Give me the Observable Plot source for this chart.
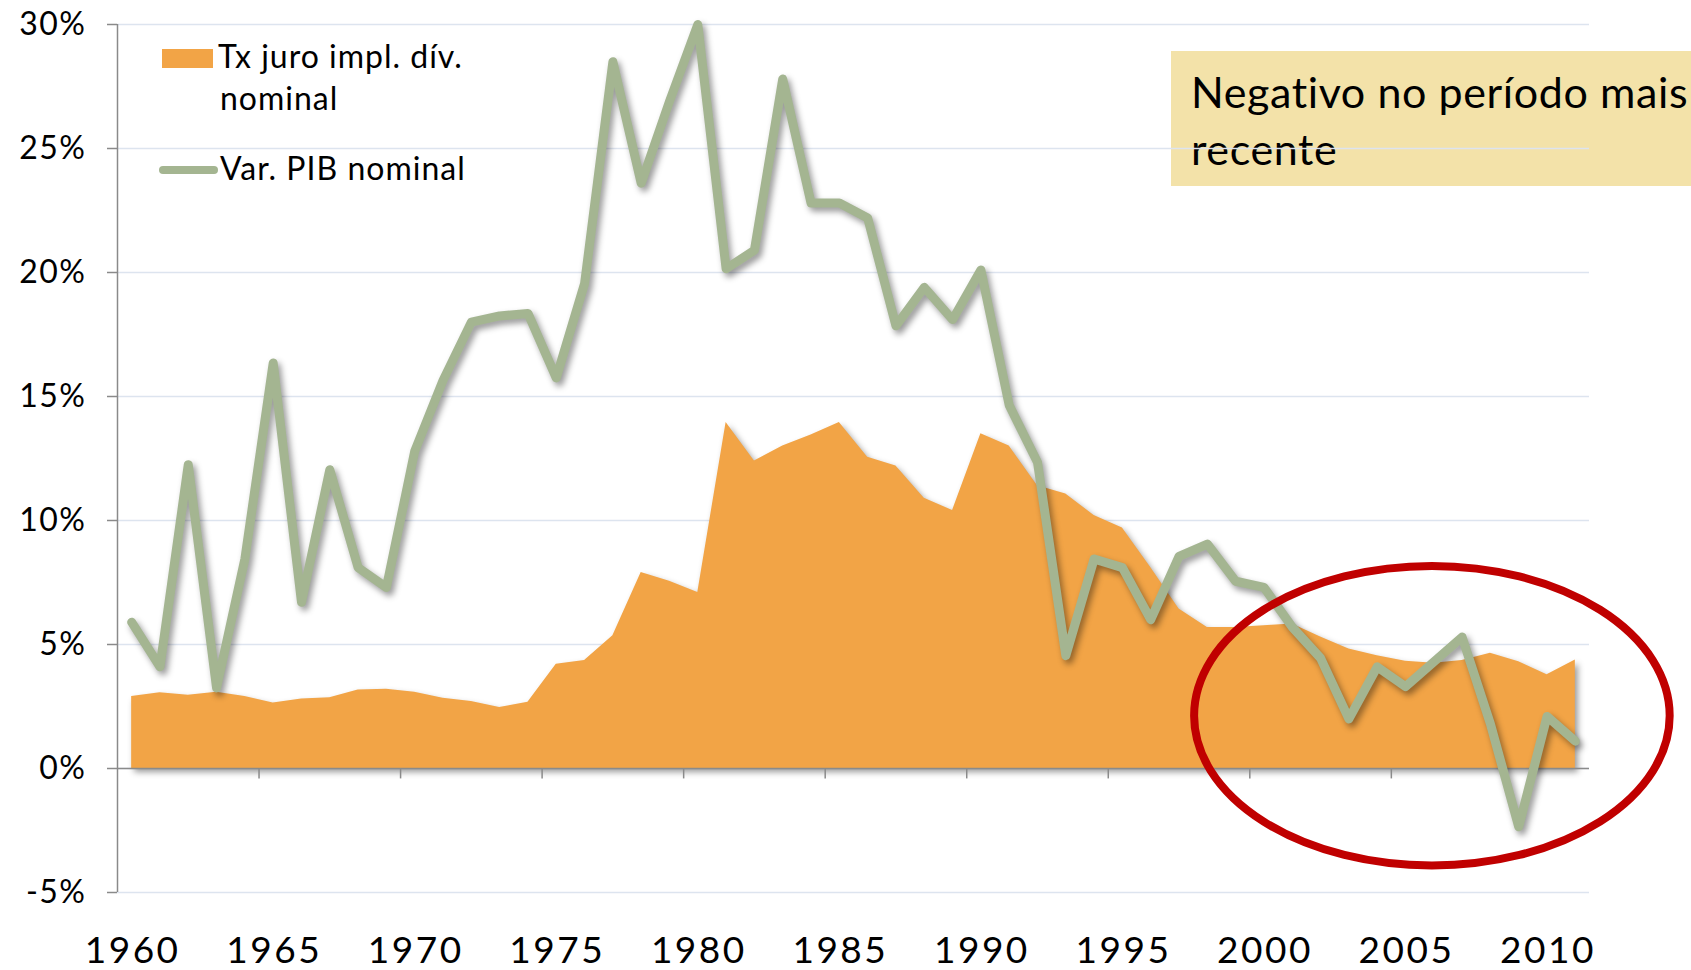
<!DOCTYPE html>
<html><head><meta charset="utf-8">
<script src="https://cdn.jsdelivr.net/npm/d3@7"></script>
<script src="https://cdn.jsdelivr.net/npm/@observablehq/plot@0.6"></script>
<style>
html,body{margin:0;padding:0;background:#fff;}
#chart{position:relative;width:1691px;height:970px;overflow:hidden;}
#chart svg{font-family:Lato,sans-serif;overflow:visible;}
#chart svg g[aria-label="area"], #chart svg g[aria-label="line"]{filter:drop-shadow(3px 4px 3px rgba(0,0,0,0.4));}
#chart svg g[aria-label="y-axis tick label"] text{letter-spacing:1.5px;}
#chart svg g[aria-label="x-axis tick label"] text{letter-spacing:2.5px;}
</style></head><body><div id="chart"></div>
<script>
const years = [1960,1961,1962,1963,1964,1965,1966,1967,1968,1969,
  1970,1971,1972,1973,1974,1975,1976,1977,1978,1979,
  1980,1981,1982,1983,1984,1985,1986,1987,1988,1989,
  1990,1991,1992,1993,1994,1995,1996,1997,1998,1999,
  2000,2001,2002,2003,2004,2005,2006,2007,2008,2009,2010,2011];
// Tx juro impl. dív. nominal (%)
const juro = [2.9,3.05,2.95,3.07,2.9,2.64,2.8,2.85,3.17,3.2,
  3.07,2.83,2.7,2.46,2.67,4.2,4.35,5.35,7.9,7.55,
  7.1,13.95,12.4,13.0,13.45,13.95,12.55,12.2,10.9,10.4,
  13.5,13.0,11.4,11.07,10.2,9.7,8.1,6.43,5.69,5.69,
  5.76,5.83,5.3,4.82,4.55,4.32,4.24,4.35,4.65,4.3,3.78,4.38];
// Var. PIB nominal (%)
const pib = [5.9,4.1,12.25,3.25,8.45,16.35,6.7,12.05,8.1,7.3,
  12.8,15.65,18.0,18.25,18.35,15.75,19.55,28.5,23.6,26.9,
  30.0,20.15,20.9,27.8,22.8,22.8,22.2,17.85,19.4,18.1,
  20.1,14.65,12.35,4.55,8.45,8.1,6.0,8.55,9.05,7.55,
  7.3,5.7,4.45,2.0,4.1,3.3,4.3,5.3,1.8,-2.35,2.1,1.1];
const seriesNames = ["Tx juro impl. dív.", "nominal", "Var. PIB nominal"];
const yTicks = [-5,0,5,10,15,20,25,30];
const xLabels = [1960,1965,1970,1975,1980,1985,1990,1995,2000,2005,2010];
const xTickMarks = [1964.5,1969.5,1974.5,1979.5,1984.5,1989.5,1994.5,1999.5,2004.5,2009.5];
const noteLines = ["Negativo no período mais", "recente"];
// highlight ellipse in data units: centre year, centre %, half-width (years), half-height (%)
const ellipse = {cx: 2005.95, cy: 2.11, rx: 8.4, ry: 6.04};

const ORANGE = "#F2A446", GREEN = "#A4B591", AXIS = "#8a8a8a", GRID = "#dde4ef";

const data = years.map((year, i) => ({year, juro: juro[i], pib: pib[i]}));

const plot = Plot.plot({
  width: 1691, height: 970,
  marginLeft: 117, marginRight: 102, marginTop: 24, marginBottom: 78,
  x: {domain: [1959.5, 2011.5]},
  y: {domain: [-5, 30]},
  style: {fontFamily: "Lato, sans-serif", background: "transparent", color: "#000"},
  marks: [
    Plot.gridY(yTicks, {stroke: GRID, strokeOpacity: 1, strokeWidth: 1.5}),
    Plot.areaY(data, {x: "year", y: "juro", fill: ORANGE}),
    Plot.ruleY([0], {stroke: AXIS, strokeWidth: 1.5}),
    Plot.ruleX(xTickMarks, {y1: 0, y2: -0.42, stroke: AXIS, strokeWidth: 1.5}),
    Plot.ruleX([1959.5], {y1: -5, y2: 30, stroke: AXIS, strokeWidth: 1.5}),
    Plot.line(data, {x: "year", y: "pib", stroke: GREEN, strokeWidth: 9, strokeLinecap: "round", strokeLinejoin: "round"}),
    Plot.axisY({ticks: yTicks, tickFormat: d => d + "%", tickSize: 10, tickPadding: 21, fontSize: 32, stroke: AXIS, strokeWidth: 1.5, label: null}),
    Plot.axisX({ticks: xLabels, tickFormat: d => String(d), tickSize: 0, tickPadding: 44, fontSize: 37, label: null, dx: 1})
  ]
});

const svg = d3.select(plot);
const sx = plot.scale("x"), sy = plot.scale("y");

// annotation box (behind everything)
const note = svg.insert("g", ":first-child").attr("text-anchor", "start");
note.append("rect").attr("x", 1171).attr("y", 51).attr("width", 530).attr("height", 135).attr("fill", "#F3E2A9");
noteLines.forEach((t, i) => note.append("text").attr("x", 1191).attr("y", 108 + i * 57)
  .attr("font-size", 43).attr("letter-spacing", 0.6).attr("fill", "#000").text(t));

// red ellipse highlight
const ecx = sx.apply(ellipse.cx), ecy = sy.apply(ellipse.cy);
svg.append("ellipse").attr("cx", ecx).attr("cy", ecy)
  .attr("rx", sx.apply(ellipse.cx + ellipse.rx) - ecx)
  .attr("ry", ecy - sy.apply(ellipse.cy + ellipse.ry))
  .attr("fill", "none").attr("stroke", "#C00000").attr("stroke-width", 8);

// legend
const lg = svg.append("g").attr("font-size", 32).attr("letter-spacing", 1).attr("fill", "#000").attr("text-anchor", "start");
lg.append("rect").attr("x", 162).attr("y", 49).attr("width", 51).attr("height", 19).attr("fill", ORANGE);
lg.append("text").attr("x", 218).attr("y", 68).text(seriesNames[0]);
lg.append("text").attr("x", 220).attr("y", 110).text(seriesNames[1]);
lg.append("line").attr("x1", 163).attr("x2", 214).attr("y1", 170).attr("y2", 170)
  .attr("stroke", GREEN).attr("stroke-width", 8).attr("stroke-linecap", "round");
lg.append("text").attr("x", 220).attr("y", 180).text(seriesNames[2]);

document.getElementById("chart").appendChild(plot);
</script></body></html>
